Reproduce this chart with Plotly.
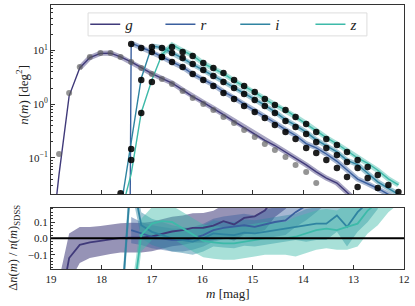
import plotly.graph_objects as go

# ---------------- data ----------------
# magnitude bin centres (index 0 is one bin fainter than the plotted range)
m = [19.04, 18.84, 18.64, 18.43, 18.23, 18.02, 17.82, 17.62, 17.41, 17.21, 17.00,
     16.80, 16.60, 16.39, 16.19, 15.98, 15.78, 15.58, 15.37, 15.17, 14.96,
     14.76, 14.56, 14.35, 14.15, 13.94, 13.74, 13.54, 13.33, 13.13, 12.92,
     12.72, 12.52, 12.31, 12.11]
N = None
# SDSS counts (points)
g_data = [N, 0.118, 1.62, 4.93, 7.57, 8.98, 8.98, 7.57, 6.11, 4.72, 3.65, 2.94, 2.38,
          1.76, 1.30, 1.01, 0.780, 0.578, 0.447, 0.331, 0.245, 0.181, 0.140, 0.104,
          0.0738, 0.0546, 0.0341, N, N, N, N, N, N, N, N]
r_data = [N] * 8 + [13.2, 11.1, 9.38, 7.57, 6.11, 4.93, 3.65, 2.82, 2.18, 1.62, 1.25,
                    0.925, 0.716, 0.553, 0.410, 0.303, 0.225, 0.153, 0.123, 0.0914,
                    0.0649, 0.0441, 0.0287, N, N, N, N]
i_data = [N] * 7 + [0.022, 0.147, 2.82, 11.6, 11.1, 8.98, 7.25, 5.61, 4.33, 3.35, 2.59,
                    2.00, 1.55, 1.20, 0.925, 0.686, 0.486, 0.376, 0.279, 0.198, 0.153,
                    0.113, 0.0839, 0.0649, 0.0423, 0.0275, N, N]
z_data = [N] * 8 + [0.0914, 0.686, 2.59, 7.57, 11.6, 9.38, 7.90, 5.85, 4.72, 3.81, 2.82,
                    2.18, 1.69, 1.25, 0.966, 0.780, 0.578, 0.428, 0.303, 0.225, 0.174,
                    0.129, 0.0914, 0.0678, 0.0481, 0.0313, 0.0232]
# model counts (lines)
g_model = [0.001, 0.05, 1.43, 4.73, 7.38, 8.85, 8.94, 7.59, 6.14, 4.74, 3.69, 3.02, 2.48,
           1.85, 1.38, 1.08, 0.84, 0.64, 0.48, 0.37, 0.28, 0.212, 0.170, 0.129, 0.100,
           0.074, 0.055, 0.042, 0.034, 0.023, 0.015, N, N, N, N]
r_model = [N] * 7 + [1e-30, 13.7, 11.4, 9.47, 7.57, 6.05, 4.88, 3.65, 2.88, 2.29, 1.72,
                     1.34, 1.00, 0.766, 0.600, 0.451, 0.336, 0.261, 0.184, 0.154, 0.118,
                     0.0863, 0.0595, 0.0402, 0.033, 0.027, 0.021, 0.016]
i_model = [N] * 7 + [0.011, 0.206, 3.05, 12.1, 11.3, 8.98, 7.18, 5.50, 4.33, 3.45, 2.65,
                     2.04, 1.60, 1.24, 0.962, 0.720, 0.515, 0.402, 0.301, 0.216, 0.167,
                     0.129, 0.0898, 0.0753, 0.0516, 0.0358, 0.027, 0.021]
z_model = [N] * 7 + [0.0088, 0.0503, 0.700, 2.82, 8.36, 12.8, 9.94, 8.06, 5.76, 4.60, 3.70,
                     2.74, 2.14, 1.67, 1.25, 0.966, 0.780, 0.584, 0.441, 0.318, 0.239,
                     0.183, 0.138, 0.0996, 0.0793, 0.0587, 0.0407, 0.0313]
# fractional residuals and their uncertainty
g_res = [N, -0.45, -0.12, -0.04, -0.025, -0.015, -0.005, 0.003, 0.005, 0.004, 0.012, 0.027,
         0.042, 0.05, 0.064, 0.065, 0.078, 0.105, 0.085, 0.125, 0.135, 0.17, 0.25, 0.3,
         0.36, 0.4, 0.6, N, N, N, N, N, N, N, N]
g_err = [N, 0.2, 0.15, 0.11, 0.095, 0.09, 0.09, 0.09, 0.09, 0.09, 0.09, 0.09, 0.09, 0.09,
         0.09, 0.09, 0.09, 0.1, 0.1, 0.1, 0.1, 0.12, 0.12, 0.12, 0.12, 0.12, 0.12,
         N, N, N, N, N, N, N, N]
r_res = [N] * 8 + [0.05, 0.03, 0.01, 0.0, -0.01, -0.01, 0.0, 0.02, 0.05, 0.064, 0.07, 0.08,
                   0.07, 0.085, 0.1, 0.11, 0.16, 0.2, 0.25, 0.3, 0.33, 0.35, 0.4, N, N, N, N]
r_err = [N] * 8 + [0.08, 0.07, 0.07, 0.07, 0.07, 0.07, 0.07, 0.07, 0.07, 0.07, 0.07, 0.07,
                   0.07, 0.09, 0.09, 0.09, 0.09, 0.09, 0.09, 0.09, 0.09, 0.09, 0.09, N, N, N, N]
i_res = [N] * 7 + [-0.5, 0.4, 0.08, 0.04, 0.02, 0.0, -0.01, -0.02, 0.0, 0.03, 0.025, 0.02,
                   0.035, 0.03, 0.04, 0.05, 0.06, 0.07, 0.08, 0.09, 0.09, 0.14, 0.07, 0.16,
                   0.22, 0.3, N, N]
i_err = [N] * 7 + [0.1, 0.1, 0.08, 0.08, 0.08, 0.08, 0.08, 0.08, 0.08, 0.08, 0.08, 0.08,
                   0.08, 0.08, 0.08, 0.08, 0.08, 0.08, 0.1, 0.1, 0.1, 0.1, 0.12, 0.12,
                   0.12, 0.12, N, N]
z_res = [N] * 8 + [-0.45, 0.02, 0.09, 0.105, 0.1, 0.06, 0.02, -0.015, -0.025, -0.03, -0.03,
                   -0.02, -0.01, 0.0, 0.0, 0.0, 0.01, 0.03, 0.05, 0.06, 0.05, 0.07, 0.09,
                   0.17, 0.22, 0.3, 0.35]
z_err = [N] * 8 + [0.12, 0.1, 0.1, 0.1, 0.1, 0.1, 0.1, 0.1, 0.1, 0.1, 0.1, 0.1, 0.1, 0.1,
                   0.1, 0.1, 0.12, 0.12, 0.12, 0.12, 0.12, 0.14, 0.14, 0.14, 0.14, 0.14, 0.14]

bands = ["g", "r", "i", "z"]
colors = {"g": "#403a7a", "r": "#3a5f9e", "i": "#2f84a1", "z": "#3dbaa9"}
fills = {"g": "rgba(64,58,122,0.55)", "r": "rgba(58,95,158,0.45)",
         "i": "rgba(47,132,161,0.45)", "z": "rgba(61,186,169,0.45)"}
data = {"g": g_data, "r": r_data, "i": i_data, "z": z_data}
model = {"g": g_model, "r": r_model, "i": i_model, "z": z_model}
res = {"g": g_res, "r": r_res, "i": i_res, "z": z_res}
err = {"g": g_err, "r": r_err, "i": i_err, "z": z_err}
thick_start = {"g": 3, "r": 8, "i": 10, "z": 11}
legend_ids = {"g": "legend", "r": "legend2", "i": "legend3", "z": "legend4"}

fig = go.Figure()

# ---- top panel: model bands + lines ----
for b in bands:
    mv = model[b]
    thick = [v if (v is not None and k >= thick_start[b]) else None for k, v in enumerate(mv)]
    fig.add_trace(go.Scatter(x=m, y=thick, mode="lines", line=dict(color=colors[b], width=5),
                             opacity=0.45, showlegend=False, hoverinfo="skip",
                             xaxis="x", yaxis="y"))
for b in bands:
    fig.add_trace(go.Scatter(x=m, y=model[b], mode="lines", name="<i>%s</i>" % b,
                             legend=legend_ids[b],
                             line=dict(color=colors[b], width=1.4), xaxis="x", yaxis="y"))
# data points
fig.add_trace(go.Scatter(x=m, y=g_data, mode="markers", showlegend=False,
                         marker=dict(size=6, color="rgba(90,90,90,0.65)", line=dict(width=0)),
                         xaxis="x", yaxis="y"))
for b in ["r", "i", "z"]:
    fig.add_trace(go.Scatter(x=m, y=data[b], mode="markers", showlegend=False,
                             marker=dict(size=6.5, color="rgba(0,0,0,0.88)", line=dict(width=0)),
                             xaxis="x", yaxis="y"))

# ---- bottom panel: residual bands and lines ----
for b in bands:
    xs = [m[k] for k in range(len(m)) if res[b][k] is not None]
    hi = [res[b][k] + err[b][k] for k in range(len(m)) if res[b][k] is not None]
    lo = [res[b][k] - err[b][k] for k in range(len(m)) if res[b][k] is not None]
    fig.add_trace(go.Scatter(x=xs + xs[::-1], y=hi + lo[::-1], fill="toself",
                             fillcolor=fills[b], line=dict(width=0), mode="lines",
                             showlegend=False, hoverinfo="skip", xaxis="x2", yaxis="y2"))
for b in bands:
    fig.add_trace(go.Scatter(x=m, y=res[b], mode="lines", showlegend=False,
                             line=dict(color=colors[b], width=1.8), xaxis="x2", yaxis="y2"))

serif = "Liberation Serif, DejaVu Serif, serif"
axis_common = dict(showline=True, linecolor="#333", linewidth=1, mirror=True,
                   ticks="inside", ticklen=4, tickcolor="#333", showgrid=False,
                   zeroline=False, tickfont=dict(family=serif, size=11, color="#222"))

minor_vals = [f * 10.0 ** e for e in range(-2, 2) for f in range(2, 10)]

# legend placement (one legend per band, inside a common frame)
leg_x = {"g": 0.097, "r": 0.310, "i": 0.522, "z": 0.735}
leg_common = dict(orientation="h", y=0.926, xanchor="left", yanchor="middle",
                  bgcolor="rgba(0,0,0,0)", borderwidth=0, itemwidth=30,
                  font=dict(family=serif, size=15, color="#222"))

fig.update_layout(
    width=415, height=306,
    margin=dict(l=51, r=11, t=5, b=37),
    paper_bgcolor="white", plot_bgcolor="white",
    font=dict(family=serif, color="#222"),
    xaxis=dict(domain=[0, 1], anchor="y", range=[19, 12], showticklabels=False,
               tickvals=[18, 17, 16, 15, 14, 13], **axis_common),
    yaxis=dict(domain=[0.283, 1], anchor="x", type="log", range=[-1.678, 1.847],
               tickvals=[0.1, 1, 10],
               ticktext=["10<sup>−1</sup>", "10<sup>0</sup>", "10<sup>1</sup>"],
               minor=dict(tickmode="array", tickvals=minor_vals, ticks="inside",
                          ticklen=2, tickcolor="#333"),
               **axis_common),
    xaxis2=dict(domain=[0, 1], anchor="y2", range=[19, 12],
                tickvals=[19, 18, 17, 16, 15, 14, 13, 12], **axis_common),
    yaxis2=dict(domain=[0, 0.232], anchor="x2", range=[-0.187, 0.187],
                tickvals=[-0.1, 0.0, 0.1], ticktext=["−0.1", "0.0", "0.1"],
                minor=dict(dtick=0.02, ticks="inside", ticklen=2, tickcolor="#333"),
                **axis_common),
    legend=dict(x=leg_x["g"], **leg_common),
    legend2=dict(x=leg_x["r"], **leg_common),
    legend3=dict(x=leg_x["i"], **leg_common),
    legend4=dict(x=leg_x["z"], **leg_common),
    shapes=[
        dict(type="line", xref="x2 domain", yref="y2", x0=0, x1=1, y0=0, y1=0,
             line=dict(color="black", width=2)),
        dict(type="rect", xref="paper", yref="paper", x0=0.105, x1=0.895,
             y0=0.883, y1=0.970, layer="above", fillcolor="rgba(255,255,255,0.8)",
             line=dict(color="#dddddd", width=1)),
    ],
    annotations=[
        dict(text="<i>n</i>(<i>m</i>) [deg<sup>2</sup>]", xref="paper", yref="paper",
             x=-0.082, y=0.66, xanchor="center", yanchor="middle", textangle=-90,
             showarrow=False, font=dict(family=serif, size=13, color="#222")),
        dict(text="Δ<i>n</i>(<i>m</i>) / <i>n</i>(<i>m</i>)<sub>SDSS</sub>", xref="paper",
             yref="paper", x=-0.105, y=0.08, xanchor="center", yanchor="middle",
             textangle=-90, showarrow=False,
             font=dict(family=serif, size=12.5, color="#222")),
        dict(text="<i>m</i> [mag]", xref="paper", yref="paper", x=0.5, y=-0.091,
             xanchor="center", yanchor="middle", showarrow=False,
             font=dict(family=serif, size=13, color="#222")),
    ],
)

fig.write_html("out.html", config={"displayModeBar": False},
               post_script="document.body.style.margin='0';document.body.style.padding='0';")
